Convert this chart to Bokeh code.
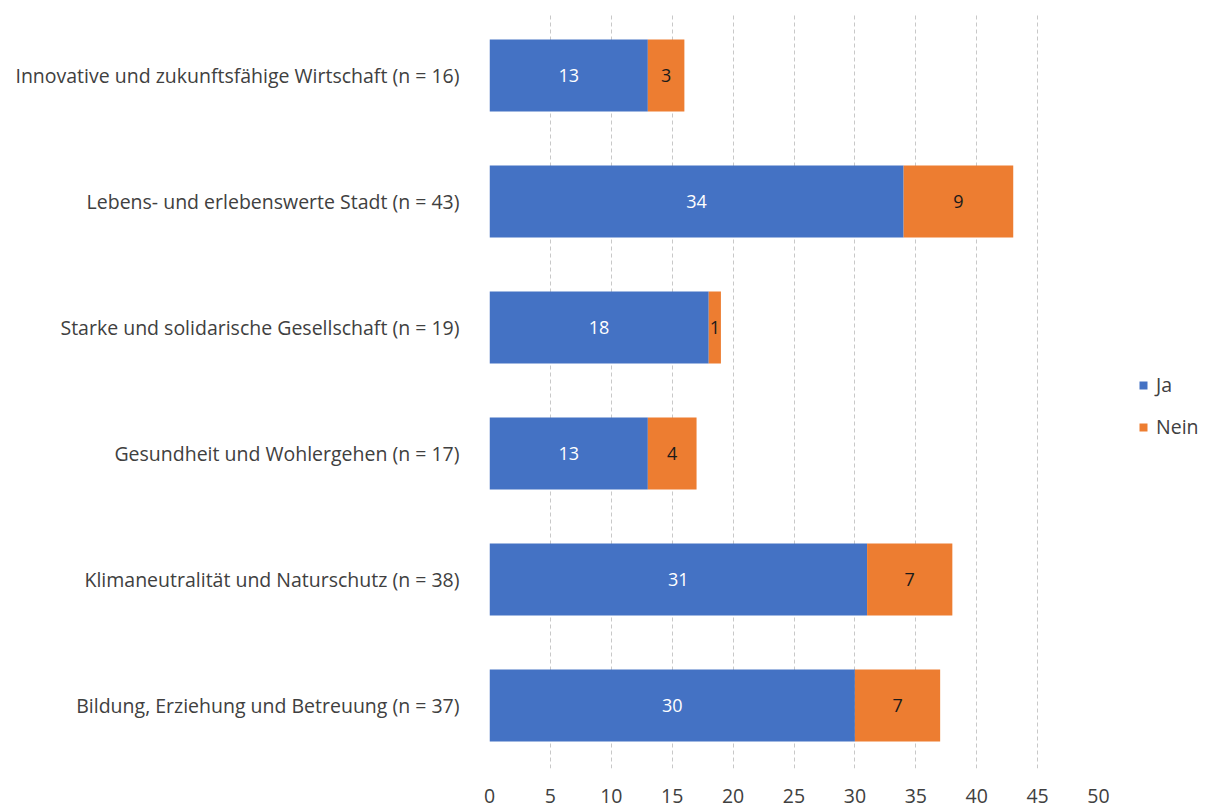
from bokeh.plotting import figure
from bokeh.models import FactorRange, ColumnDataSource, Legend, LegendItem
from bokeh.core.properties import value
from bokeh.embed import file_html
from bokeh.resources import INLINE

categories = [
    "Innovative und zukunftsfähige Wirtschaft (n = 16)",
    "Lebens- und erlebenswerte Stadt (n = 43)",
    "Starke und solidarische Gesellschaft (n = 19)",
    "Gesundheit und Wohlergehen (n = 17)",
    "Klimaneutralität und Naturschutz (n = 38)",
    "Bildung, Erziehung und Betreuung (n = 37)",
]
ja = [13, 34, 18, 13, 31, 30]
nein = [3, 9, 1, 4, 7, 7]
series = ["Ja", "Nein"]
colors = ["#4472C4", "#ED7D31"]
x_ticks = [0, 5, 10, 15, 20, 25, 30, 35, 40, 45, 50]

FONT = "Open Sans"
FS = "19.5px"

src = ColumnDataSource(dict(
    cat=categories, Ja=ja, Nein=nein,
    ja_mid=[j / 2 for j in ja],
    nein_mid=[j + n / 2 for j, n in zip(ja, nein)],
    ja_txt=[str(v) for v in ja],
    nein_txt=[str(v) for v in nein],
))

p = figure(
    frame_width=609, frame_height=756,
    y_range=FactorRange(*reversed(categories), range_padding=0),
    x_range=(0, 50),
    output_backend="svg", toolbar_location=None,
    min_border_left=489, min_border_right=0, min_border_top=12, min_border_bottom=41,
)
p.outline_line_color = None
p.background_fill_color = "white"

renderers = p.hbar_stack(series, y="cat", height=0.57, color=colors, source=src, line_color=None)

p.text(x="ja_mid", y="cat", text="ja_txt", source=src, text_align="center", text_baseline="middle",
       text_color="white", text_font=value(FONT), text_font_size="18px")
p.text(x="nein_mid", y="cat", text="nein_txt", source=src, text_align="center", text_baseline="middle",
       text_color="#1a1a1a", text_font=value(FONT), text_font_size="18px")

p.xaxis.ticker = x_ticks
p.xaxis.axis_line_color = None
p.xaxis.major_tick_line_color = None
p.xaxis.minor_tick_line_color = None
p.xaxis.major_label_text_font = FONT
p.xaxis.major_label_text_font_size = FS
p.xaxis.major_label_text_color = "#404040"
p.xaxis.major_label_standoff = 14

p.yaxis.axis_line_color = None
p.yaxis.major_tick_line_color = None
p.yaxis.minor_tick_line_color = None
p.yaxis.major_label_text_font = FONT
p.yaxis.major_label_text_font_size = FS
p.yaxis.major_label_text_color = "#404040"
p.yaxis.major_label_standoff = 24

p.ygrid.grid_line_color = None
p.xgrid.grid_line_color = "#c8c8c8"
p.xgrid.grid_line_dash = "4 3"
p.xgrid.grid_line_width = 1

legend = Legend(items=[LegendItem(label=s, renderers=[r]) for s, r in zip(series, renderers)],
                location=(40, 328), orientation="vertical",
                glyph_width=10, glyph_height=10, spacing=15, label_standoff=8,
                label_text_font=FONT, label_text_font_size=FS, label_text_color="#404040",
                border_line_color=None, background_fill_alpha=0, padding=0, margin=0)
p.add_layout(legend, "right")

open("out.html", "w").write(file_html(p, INLINE))
